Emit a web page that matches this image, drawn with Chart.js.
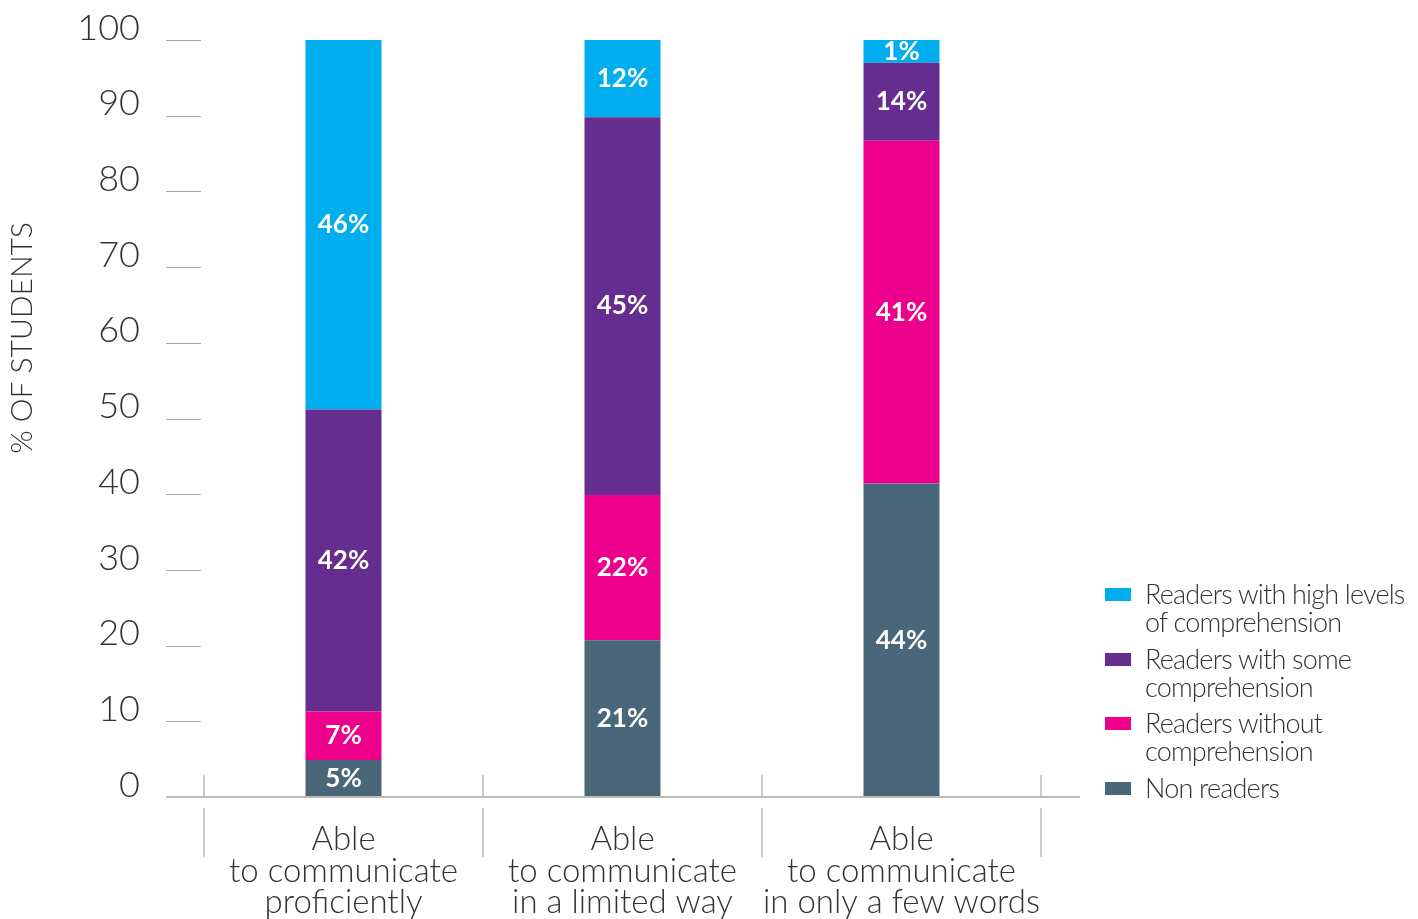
<!DOCTYPE html>
<html>
<head>
<meta charset="utf-8">
<script src="https://cdn.jsdelivr.net/npm/chart.js@4.4.0/dist/chart.umd.min.js"></script>
<style>
  body { margin: 0; background: #fff; }
  #wrap { position: relative; width: 1418px; height: 919px; }
  #legend { position: absolute; left: 1105px; top: 580px; font-family: Lato, sans-serif; font-weight: 300; font-size: 27px; line-height: 28px; color: #333; letter-spacing: -0.8px; }
  .item { position: relative; padding-left: 40px; margin-bottom: 8.5px; }
  .sw { position: absolute; left: 0; top: 8px; width: 26px; height: 13px; }
</style>
</head>
<body>
<div id="wrap">
  <canvas id="chart"></canvas>
  <div id="legend"></div>
</div>
<script>
const categories = [
    ['Able', 'to communicate', 'proficiently'],
    ['Able', 'to communicate', 'in a limited way'],
    ['Able', 'to communicate', 'in only a few words']
];
const yTicks = [0, 10, 20, 30, 40, 50, 60, 70, 80, 90, 100];

// bar heights as drawn, and the printed labels
const nonReaders = [4.9, 20.7, 41.4];
const withoutComp = [6.4, 19.2, 45.3];
const someComp = [39.9, 49.9, 10.3];
const highComp = [48.8, 10.2, 3.0];

const nonLabels = ['5%', '21%', '44%'];
const withoutLabels = ['7%', '22%', '41%'];
const someLabels = ['42%', '45%', '14%'];
const highLabels = ['46%', '12%', '1%'];

const datasets = [
    { label: 'Non readers', data: nonReaders, texts: nonLabels, backgroundColor: '#4a6679' },
    { label: 'Readers without\ncomprehension', data: withoutComp, texts: withoutLabels, backgroundColor: '#ec008c' },
    { label: 'Readers with some\ncomprehension', data: someComp, texts: someLabels, backgroundColor: '#652d90' },
    { label: 'Readers with high levels\nof comprehension', data: highComp, texts: highLabels, backgroundColor: '#00aeef' }
];

const noPad = s => {
    s.paddingTop = 0;
    s.paddingBottom = 0;
    s.paddingLeft = 0;
    s.paddingRight = 0;
};

const decor = {
    id: 'decor',
    afterDraw(chart) {
        const ctx = chart.ctx;
        const x = chart.scales.x;
        const y = chart.scales.y;
        const base = y.getPixelForValue(0);
        ctx.save();
        // short y tick lines
        ctx.strokeStyle = '#aaa';
        ctx.lineWidth = 1;
        yTicks.forEach(v => {
            if (v === 0) return;
            const py = Math.round(y.getPixelForValue(v)) + 0.5;
            ctx.beginPath();
            ctx.moveTo(166, py);
            ctx.lineTo(201, py);
            ctx.stroke();
        });
        // axis line
        ctx.strokeStyle = '#bbb';
        ctx.lineWidth = 2;
        ctx.beginPath();
        ctx.moveTo(166, base);
        ctx.lineTo(1080, base);
        ctx.stroke();
        // category separators
        ctx.lineWidth = 1.5;
        const step = x.getPixelForValue(1) - x.getPixelForValue(0);
        for (let i = 0; i <= categories.length; i++) {
            const px = x.getPixelForValue(0) - step / 2 + i * step;
            ctx.beginPath();
            ctx.moveTo(px, base - 22);
            ctx.lineTo(px, base);
            ctx.moveTo(px, base + 11);
            ctx.lineTo(px, base + 60);
            ctx.stroke();
        }
        // y axis title
        ctx.translate(22, 338);
        ctx.rotate(-Math.PI / 2);
        ctx.fillStyle = '#333';
        ctx.font = '300 30px Lato, sans-serif';
        ctx.textAlign = 'center';
        ctx.textBaseline = 'middle';
        ctx.fillText('% OF STUDENTS', 0, 0);
        ctx.restore();
    },
    afterDatasetsDraw(chart) {
        const ctx = chart.ctx;
        ctx.save();
        ctx.fillStyle = '#fff';
        ctx.font = 'bold 26px Lato, sans-serif';
        ctx.textAlign = 'center';
        ctx.textBaseline = 'middle';
        chart.data.datasets.forEach((ds, i) => {
            chart.getDatasetMeta(i).data.forEach((bar, j) => {
                const mid = (bar.y + bar.base) / 2;
                ctx.fillText(ds.texts[j], bar.x, mid);
            });
        });
        ctx.restore();
    }
};

new Chart('chart', {
    type: 'bar',
    data: { labels: categories, datasets: datasets },
    options: {
        responsive: true,
        maintainAspectRatio: false,
        animation: false,
        layout: { padding: { top: 40, right: 377, left: 0, bottom: 0 } },
        datasets: { bar: { barPercentage: 1, categoryPercentage: 0.2724 } },
        plugins: { legend: { display: false }, tooltip: { enabled: false } },
        scales: {
            x: {
                stacked: true,
                grid: { display: false, drawTicks: false },
                border: { display: false },
                afterFit: s => { s.height = 122; noPad(s); },
                ticks: {
                    padding: 27,
                    color: '#333',
                    maxRotation: 0,
                    autoSkip: false,
                    font: { family: 'Lato, sans-serif', weight: 300, size: 33, lineHeight: 0.95 }
                }
            },
            y: {
                stacked: true,
                min: 0,
                max: 100,
                grid: { display: false, drawTicks: false },
                border: { display: false },
                afterFit: s => { s.width = 204; noPad(s); },
                afterBuildTicks: s => { s.ticks = yTicks.map(v => ({ value: v })); },
                ticks: {
                    padding: 64,
                    labelOffset: -12,
                    color: '#333',
                    font: { family: 'Lato, sans-serif', weight: 300, size: 36 }
                }
            }
        }
    },
    plugins: [decor]
});

const legend = document.getElementById('legend');
datasets.slice().reverse().forEach(ds => {
    const item = document.createElement('div');
    item.className = 'item';
    const sw = document.createElement('span');
    sw.className = 'sw';
    sw.style.background = ds.backgroundColor;
    item.appendChild(sw);
    ds.label.split('\n').forEach(line => {
        const d = document.createElement('div');
        d.textContent = line;
        item.appendChild(d);
    });
    legend.appendChild(item);
});
</script>
</body>
</html>
